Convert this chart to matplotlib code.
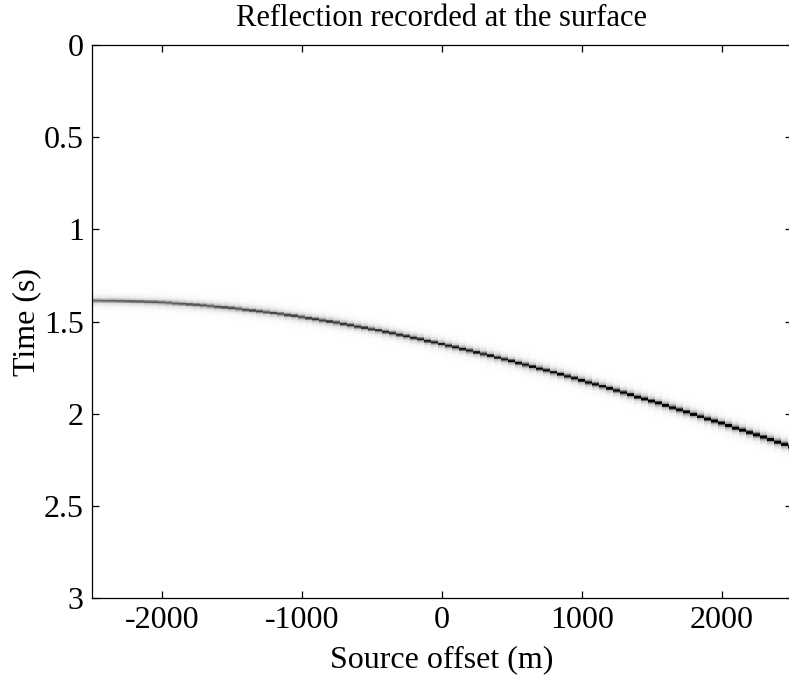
import numpy as np
import matplotlib
matplotlib.use('Agg')
import matplotlib.pyplot as plt

plt.rcParams['font.family'] = ['Liberation Serif', 'DejaVu Serif']

# receiver offsets (m), one trace every 50 m
offsets = np.arange(-2500, 2501, 50)

# picked arrival time (s) of the reflection on each trace
arrival = [1.387, 1.387, 1.388, 1.388, 1.389, 1.390, 1.391, 1.392, 1.394, 1.395,
           1.397, 1.399, 1.402, 1.404, 1.407, 1.410, 1.413, 1.416, 1.420, 1.423,
           1.427, 1.431, 1.436, 1.440, 1.445, 1.449, 1.454, 1.459, 1.465, 1.470,
           1.476, 1.482, 1.488, 1.494, 1.500, 1.506, 1.513, 1.520, 1.527, 1.534,
           1.541, 1.548, 1.556, 1.564, 1.572, 1.580, 1.588, 1.596, 1.605, 1.613,
           1.622, 1.631, 1.640, 1.649, 1.658, 1.667, 1.676, 1.685, 1.695, 1.705,
           1.715, 1.725, 1.735, 1.745, 1.755, 1.765, 1.776, 1.786, 1.797, 1.808,
           1.819, 1.830, 1.841, 1.852, 1.863, 1.874, 1.886, 1.897, 1.909, 1.920,
           1.932, 1.943, 1.955, 1.967, 1.979, 1.991, 2.003, 2.015, 2.028, 2.040,
           2.052, 2.064, 2.077, 2.089, 2.102, 2.115, 2.128, 2.140, 2.153, 2.166,
           2.179]

# peak amplitude on each trace (0 = white, 1 = black)
amplitude = [0.42, 0.42, 0.42, 0.43, 0.43, 0.43, 0.44, 0.44, 0.44, 0.45,
             0.45, 0.46, 0.46, 0.46, 0.47, 0.47, 0.48, 0.48, 0.49, 0.49,
             0.50, 0.50, 0.51, 0.51, 0.52, 0.52, 0.53, 0.53, 0.54, 0.54,
             0.55, 0.55, 0.56, 0.56, 0.57, 0.57, 0.58, 0.58, 0.59, 0.59,
             0.60, 0.60, 0.61, 0.61, 0.62, 0.62, 0.63, 0.63, 0.64, 0.64,
             0.65, 0.65, 0.66, 0.66, 0.67, 0.67, 0.68, 0.68, 0.69, 0.69,
             0.70, 0.70, 0.71, 0.72, 0.72, 0.73, 0.73, 0.74, 0.74, 0.75,
             0.76, 0.76, 0.77, 0.77, 0.78, 0.79, 0.79, 0.80, 0.80, 0.81,
             0.82, 0.82, 0.83, 0.84, 0.84, 0.85, 0.86, 0.86, 0.87, 0.88,
             0.88, 0.89, 0.90, 0.90, 0.91, 0.92, 0.92, 0.93, 0.94, 0.94,
             0.95]

xticks = [-2000, -1000, 0, 1000, 2000]
yticks = [0, 0.5, 1, 1.5, 2, 2.5, 3]
ytick_labels = ['0', '0.5', '1', '1.5', '2', '2.5', '3']

# build the recorded section, time sampling 4 ms
dt = 0.004
t = np.arange(0, 3 + dt / 2, dt)
section = np.zeros((len(t), len(offsets)))
for j in range(len(offsets)):
    d = t - arrival[j]
    core = np.exp(-(d / 0.008) ** 2)
    halo = 0.35 * np.exp(-(d / 0.022) ** 2) + 0.08 * np.exp(-(d / 0.045) ** 2)
    section[:, j] = amplitude[j] * (core + halo)

fig = plt.figure(figsize=(7.89, 6.77), dpi=100)
ax = fig.add_axes([92 / 789, 1 - 598 / 677, 700 / 789, 553 / 677])

half = 25
ax.imshow(section, cmap='gray_r', vmin=0, vmax=1, aspect='auto',
          interpolation='nearest',
          extent=[offsets[0] - half, offsets[-1] + half, t[-1] + dt / 2, t[0] - dt / 2])

ax.set_xlim(-2500, 2500)
ax.set_ylim(3, 0)
ax.set_xticks(xticks)
ax.set_xticklabels([str(v) for v in xticks])
ax.set_yticks(yticks)
ax.set_yticklabels(ytick_labels)
ax.tick_params(direction='in', top=True, right=True, length=5, width=0.9,
               labelsize=23, pad=6)
for s in ax.spines.values():
    s.set_linewidth(0.9)

ax.set_title('Reflection recorded at the surface', fontsize=22, pad=14)
ax.set_xlabel('Source offset (m)', fontsize=23, labelpad=7)
ax.set_ylabel('Time (s)', fontsize=23, labelpad=2)

fig.savefig('out.png', dpi=100)
